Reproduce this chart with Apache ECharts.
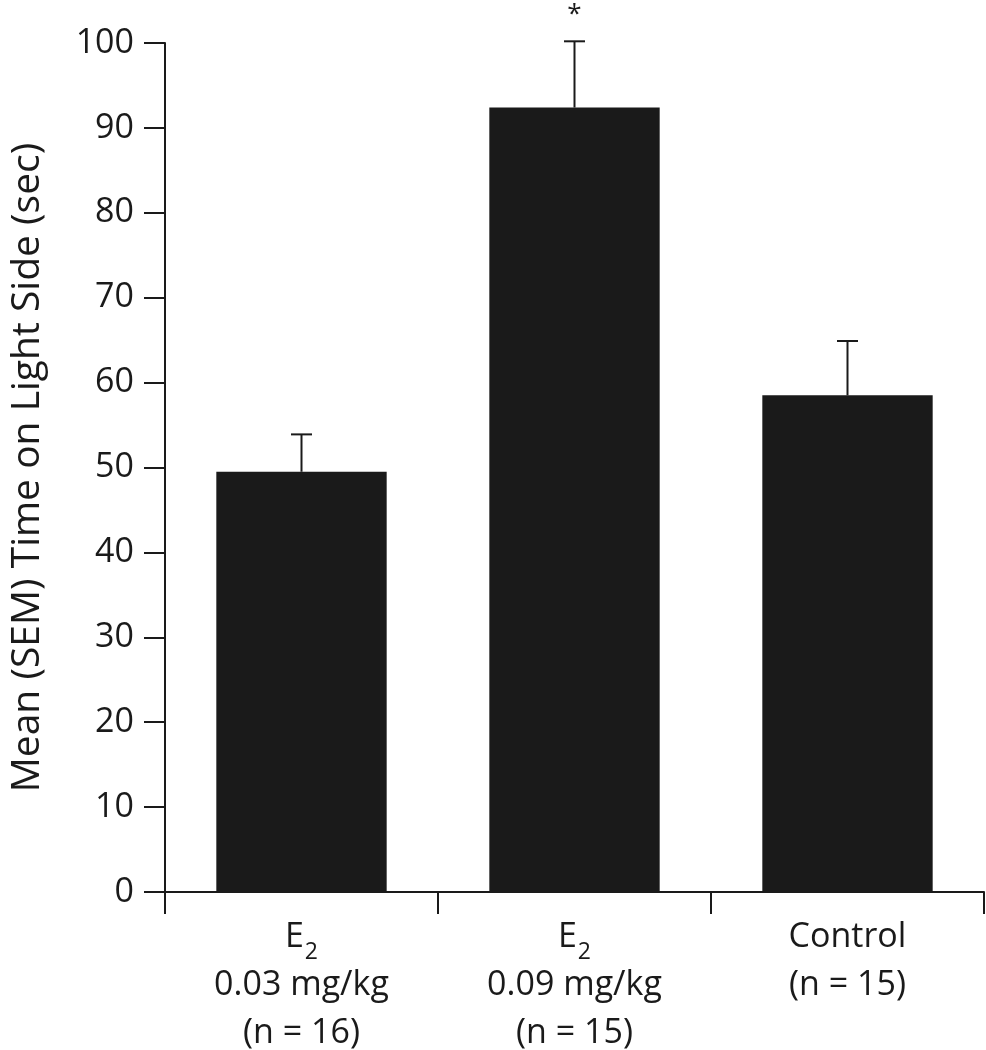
<!DOCTYPE html>
<html>
<head>
<meta charset="utf-8">
<script src="https://cdn.jsdelivr.net/npm/echarts@6/dist/echarts.min.js"></script>
<style>
  html, body { margin: 0; padding: 0; background: #ffffff; }
  #chart { width: 986px; height: 1050px; }
</style>
</head>
<body>
<div id="chart"></div>
<script>
// ---- data ----
const categories = ['E2|0.03 mg/kg|(n = 16)', 'E2|0.09 mg/kg|(n = 15)', 'Control|(n = 15)'];
const means = [49.5, 92.4, 58.5];
const sem = [4.4, 7.8, 6.4];
const significance = ['', '*', ''];
const yAxisTitle = 'Mean (SEM) Time on Light Side (sec)';
const yMin = 0;
const yMax = 100;
const yStep = 10;

// ---- chart ----
const FONT = '"Open Sans"';
const chart = echarts.init(document.getElementById('chart'), null, { renderer: 'canvas' });

const errData = means.map((m, i) => [i, m, m + sem[i], significance[i]]);

const option = {
  animation: false,
  backgroundColor: '#ffffff',
  grid: { left: 157, right: 2, top: 43, bottom: 156, containLabel: false },
  xAxis: {
    type: 'category',
    data: categories,
    boundaryGap: true,
    axisLine: { lineStyle: { color: '#1a1a1a', width: 2 } },
    axisTick: { show: true, length: 22, lineStyle: { color: '#1a1a1a', width: 2 } },
    axisLabel: {
      margin: 21,
      interval: 0,
      formatter: function (v) {
        return v.split('|').map(function (s) {
          if (s === 'E2') return '{t|E}{s|2}';
          return '{t|' + s + '}';
        }).join('\n');
      },
      rich: {
        t: { fontFamily: FONT, fontSize: 34, lineHeight: 48, color: '#1a1a1a' },
        s: { fontFamily: FONT, fontSize: 23, lineHeight: 6, verticalAlign: 'top', padding: [28, 0, 0, 1], color: '#1a1a1a' }
      }
    }
  },
  yAxis: {
    type: 'value',
    min: yMin,
    max: yMax,
    interval: yStep,
    name: yAxisTitle,
    nameLocation: 'middle',
    nameGap: 118,
    nameTextStyle: { fontFamily: FONT, fontSize: 39, color: '#1a1a1a' },
    axisLine: { show: true, lineStyle: { color: '#1a1a1a', width: 2 } },
    axisTick: { show: true, length: 21, lineStyle: { color: '#1a1a1a', width: 2 } },
    axisLabel: { margin: 31, fontFamily: FONT, fontSize: 34, color: '#1a1a1a' },
    splitLine: { show: false }
  },
  series: [
    {
      type: 'bar',
      data: means,
      barWidth: '62.4%',
      itemStyle: { color: '#1a1a1a' },
      z: 2
    },
    {
      type: 'custom',
      data: errData,
      z: 3,
      renderItem: function (params, api) {
        const i = api.value(0);
        const base = api.coord([i, api.value(1)]);
        const top = api.coord([i, api.value(2)]);
        const half = 10.5;
        const children = [
          { type: 'line', shape: { x1: base[0], y1: base[1], x2: top[0], y2: top[1] },
            style: { stroke: '#1a1a1a', lineWidth: 2 } },
          { type: 'line', shape: { x1: top[0] - half, y1: top[1], x2: top[0] + half, y2: top[1] },
            style: { stroke: '#1a1a1a', lineWidth: 2 } }
        ];
        const sig = significance[params.dataIndex];
        if (sig) {
          children.push({
            type: 'text',
            style: {
              text: sig, x: top[0], y: top[1] - 40,
              fontFamily: FONT, fontSize: 26, fill: '#1a1a1a',
              textAlign: 'center', textVerticalAlign: 'top'
            }
          });
        }
        return { type: 'group', children: children };
      }
    }
  ]
};
chart.setOption(option);
</script>
</body>
</html>
